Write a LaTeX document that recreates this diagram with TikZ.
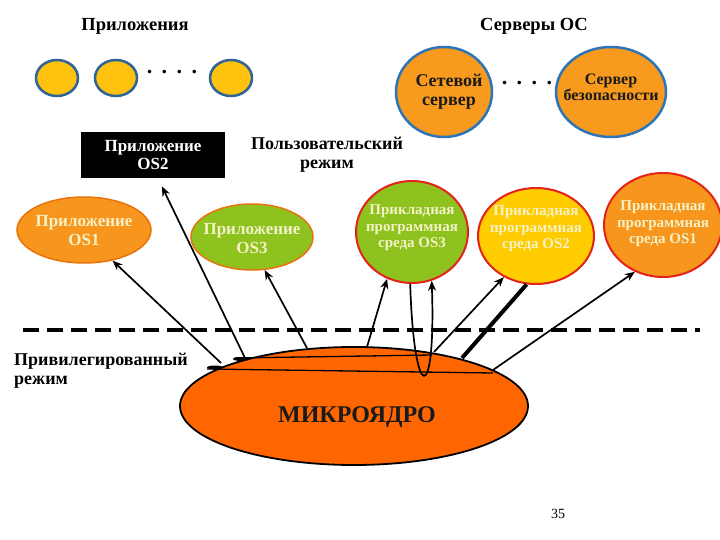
\documentclass[tikz,border=0pt]{standalone}
\usepackage{fontspec}
\setmainfont{Liberation Serif}
\usepackage{tikz}
\usetikzlibrary{arrows.meta,shapes.geometric}
\definecolor{dotyellow}{HTML}{FFC20E}
\definecolor{blueedge}{HTML}{2E6496}
\definecolor{srvorange}{HTML}{F79A1E}
\definecolor{srvedge}{HTML}{2E75B6}
\definecolor{apporange}{HTML}{F7951D}
\definecolor{appedge}{HTML}{E8730F}
\definecolor{appgreen}{HTML}{8DC21F}
\definecolor{envyellow}{HTML}{FFCC00}
\definecolor{envedge}{HTML}{E2231A}
\definecolor{kernelred}{HTML}{FF6600}
\definecolor{paletext}{HTML}{F4F2C6}
\definecolor{darktext}{HTML}{1A1A1A}

\begin{document}
\begin{tikzpicture}[x=1pt, y=-1pt,
    every node/.style={font=\bfseries, inner sep=0pt, align=center},
    heading/.style={font=\bfseries\fontsize{18.5}{20}\selectfont},
    appdot/.style={ellipse, draw=blueedge, line width=2.5pt, fill=dotyellow,
      minimum width=42, minimum height=36},
    dotrow/.style={font=\bfseries\fontsize{22}{24}\selectfont},
    server/.style={ellipse, draw=srvedge, line width=2.5pt, fill=srvorange,
      minimum height=90},
    srvtext/.style={text=darktext},
    appnode/.style={ellipse, draw=appedge, line width=1.5pt, minimum height=66},
    apptext/.style={text=paletext, font=\bfseries\fontsize{17}{19}\selectfont},
    envnode/.style={ellipse, draw=envedge, line width=2pt},
    envtext/.style={text=paletext, font=\bfseries\fontsize{15}{16.5}\selectfont},
    link/.style={line width=1.7pt, -{Stealth[length=10pt,width=8pt]}}]

    % Frame of the slide
    \useasboundingbox (0,0) rectangle (720,540);

    % Headings
    \node[heading] (apptitle) at (135,26) {Приложения};
    \node[heading] (srvtitle) at (534,26) {Серверы ОС};

    % Applications row
    \node[appdot] (dota) at (57,78) {};
    \node[appdot] (dotb) at (116,78) {};
    \node[appdot] (dotc) at (231,78) {};
    \node[dotrow] (appdots) at (172,72)
      {.\hspace{9.5pt}.\hspace{9.5pt}.\hspace{9.5pt}.};

    % OS servers
    \node[server, minimum width=96, label={[srvtext, xshift=5pt,
      font=\bfseries\fontsize{18}{19}\selectfont]center:Сетевой\\сервер}]
      (netsrv) at (444,92) {};
    \node[server, minimum width=110, label={[srvtext, yshift=5pt,
      font=\bfseries\fontsize{16}{16}\selectfont]center:Сервер\\безопасности}]
      (secsrv) at (611,92) {};
    \node[dotrow] (srvdots) at (527,83)
      {.\hspace{9.5pt}.\hspace{9.5pt}.\hspace{9.5pt}.};

    % User mode applications
    \node[fill=black, text=white, minimum width=144, minimum height=46,
      font=\bfseries\fontsize{17}{18}\selectfont] (app2) at (153,155) {Приложение\\OS2};
    \node[font=\bfseries\fontsize{18}{19}\selectfont] (usermode) at (327,155)
      {Пользовательский\\режим\hspace{16pt}};
    \node[appnode, fill=apporange, minimum width=134,
      label={[apptext, yshift=-1pt]center:Приложение\\OS1}] (app1) at (84,230) {};
    \node[appnode, fill=appgreen, minimum width=122,
      label={[apptext, yshift=-2pt]center:Приложение\\OS3}] (app3) at (252,237) {};

    % Application environments
    \node[envnode, fill=appgreen, minimum width=112, minimum height=102,
      label={[envtext, yshift=4pt]center:Прикладная\\программная\\среда OS3}]
      (env3) at (412,232) {};
    \node[envnode, fill=envyellow, minimum width=116, minimum height=96,
      label={[envtext, yshift=7pt]center:Прикладная\\программная\\среда OS2}]
      (env2) at (536,236) {};
    \node[envnode, fill=apporange, minimum width=118, minimum height=104,
      label={[envtext, yshift=1pt]center:Прикладная\\программная\\среда OS1}]
      (env1) at (663,225) {};

    % Border between the modes
    \draw[line width=3.5pt, dash pattern=on 16pt off 8pt] (23,330) -- (700,330);
    \node[anchor=west, align=left, font=\bfseries\fontsize{18}{19}\selectfont]
      (privmode) at (14,371) {Привилегированный\\режим};

    % Microkernel
    \node[ellipse, draw=black, line width=1.8pt, fill=kernelred,
      minimum width=348, minimum height=118] (kernel) at (354,406) {};
    \node[text=darktext, font=\bfseries\fontsize{24}{26}\selectfont]
      (kerneltext) at (357,417) {МИКРОЯДРО};
    \draw[line width=1.3pt] (207,369) -- (493,373);
    \draw[line width=1.3pt] (235,358) -- (432,355);
    \fill (215,367.5) ellipse (8 and 2);
    \fill (241,359) ellipse (8 and 2);

    % Start points on the microkernel
    \coordinate (k1) at (221,363);
    \coordinate (k2) at (245,358);
    \coordinate (k3) at (307,348);
    \coordinate (k4) at (367,347);
    \coordinate (k5) at (434,352);
    \coordinate (k6) at (462,358);
    \coordinate (k7) at (493,370);

    % Calls from the microkernel
    \draw[link] (k1) -- (app1.313);
    \draw[link, shorten >=9pt] (k2) -- (app2.282);
    \draw[link] (k3) -- (app3.291);
    \draw[link] (k4) -- (env3.242);
    \draw[link] (env3.268) .. controls (414,406) and (436,406) .. (env3.292);
    \draw[link] (k5) -- (env2.232);
    \draw[line width=4pt] (k6) -- (env2.259);
    \draw[link] (k7) -- (env1.239);

    % Slide number
    \node[font=\fontsize{14}{16}\selectfont] (pagenum) at (558,514) {35};

\end{tikzpicture}
\end{document}
